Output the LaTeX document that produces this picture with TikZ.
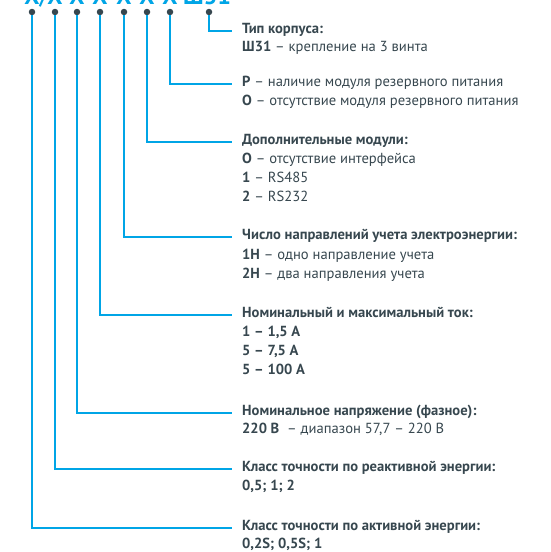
\documentclass[tikz,border=0pt]{standalone}
\usepackage{fontspec}
\setmainfont{PT Sans}
\usepackage{tikz}
\usetikzlibrary{positioning,calc}
\definecolor{leadblue}{RGB}{0,165,230}
\definecolor{inkgray}{RGB}{55,71,79}

\begin{document}
\begin{tikzpicture}[
    x=1pt, y=-1pt,
    lead/.style={draw=leadblue, line width=1.8pt},
    dot/.style={circle, fill=inkgray, minimum size=6.5pt, inner sep=0pt},
    code/.style={anchor=base, inner sep=0pt, text=leadblue, font=\fontsize{24}{28}\selectfont\bfseries},
    head/.style={anchor=west, inner xsep=10pt, inner ysep=3pt, text height=9pt, text depth=4pt,
                 text=inkgray, font=\fontsize{14.6}{19}\selectfont\bfseries},
    body/.style={anchor=base west, inner xsep=10pt, inner ysep=0pt,
                 text=inkgray, font=\fontsize{14.6}{19}\selectfont}
]
\useasboundingbox (0,0) rectangle (550,552);

% code letters, cut by the top edge
\foreach \i/\x in {1/32,2/55,3/77,4/100,5/124,6/147,7/170}
    \node[code] (c\i) at (\x,4) {Х};
\node[code, font=\fontsize{20}{24}\selectfont\bfseries] (cs) at (43.5,4) {/};
\node[code] (c8) at (207,4) {Ш31};

% bullets
\foreach \i/\x in {1/32,2/55,3/77,4/100,5/124,6/147,7/170,8/209}
    \node[dot] (b\i) at (\x,12) {};

% headings
\node[head] (h8) at (232,31) {Тип корпуса:};
\node[body] (d8) at ([yshift=-18pt]h8.base west) {\textbf{Ш31} – крепление на 3 винта};

\node[head, font=\fontsize{14.6}{19}\selectfont] (h7) at (232,84) {\textbf{Р} – наличие модуля резервного питания};
\node[body] (d7) at ([yshift=-19pt]h7.base west) {\textbf{О} – отсутствие модуля резервного питания};

\node[head] (h6) at (232,142) {Дополнительные модули:};
\node[body] (d6a) at ([yshift=-19pt]h6.base west) {\textbf{О} – отсутствие интерфейса};
\node[body] (d6b) at ([yshift=-19pt]d6a.base west) {\textbf{1} – RS485};
\node[body] (d6c) at ([yshift=-19pt]d6b.base west) {\textbf{2} – RS232};

\node[head] (h5) at (232,237) {Число направлений учета электроэнергии:};
\node[body] (d5a) at ([yshift=-20pt]h5.base west) {\textbf{1Н} – одно направление учета};
\node[body] (d5b) at ([yshift=-19pt]d5a.base west) {\textbf{2Н} – два направления учета};

\node[head] (h4) at (232,315) {Номинальный и максимальный ток:};
\node[body] (d4a) at ([yshift=-19pt]h4.base west) {\textbf{1 – 1,5 А}};
\node[body] (d4b) at ([yshift=-19pt]d4a.base west) {\textbf{5 – 7,5 А}};
\node[body] (d4c) at ([yshift=-19pt]d4b.base west) {\textbf{5 – 100 А}};

\node[head] (h3) at (232,413) {Номинальное напряжение (фазное):};
\node[body] (d3) at ([yshift=-18pt]h3.base west) {\textbf{220 В}\ \ – диапазон 57,7 – 220 В};

\node[head] (h2) at (232,469) {Класс точности по реактивной энергии:};
\node[body] (d2) at ([yshift=-19pt]h2.base west) {\textbf{0,5; 1; 2}};

\node[head] (h1) at (232,528) {Класс точности по активной энергии:};
\node[body] (d1) at ([yshift=-18pt]h1.base west) {\textbf{0,2S; 0,5S; 1}};

% leaders
\foreach \i in {1,...,8}
    \draw[lead] (b\i.south) |- (h\i.west);
\end{tikzpicture}
\end{document}
